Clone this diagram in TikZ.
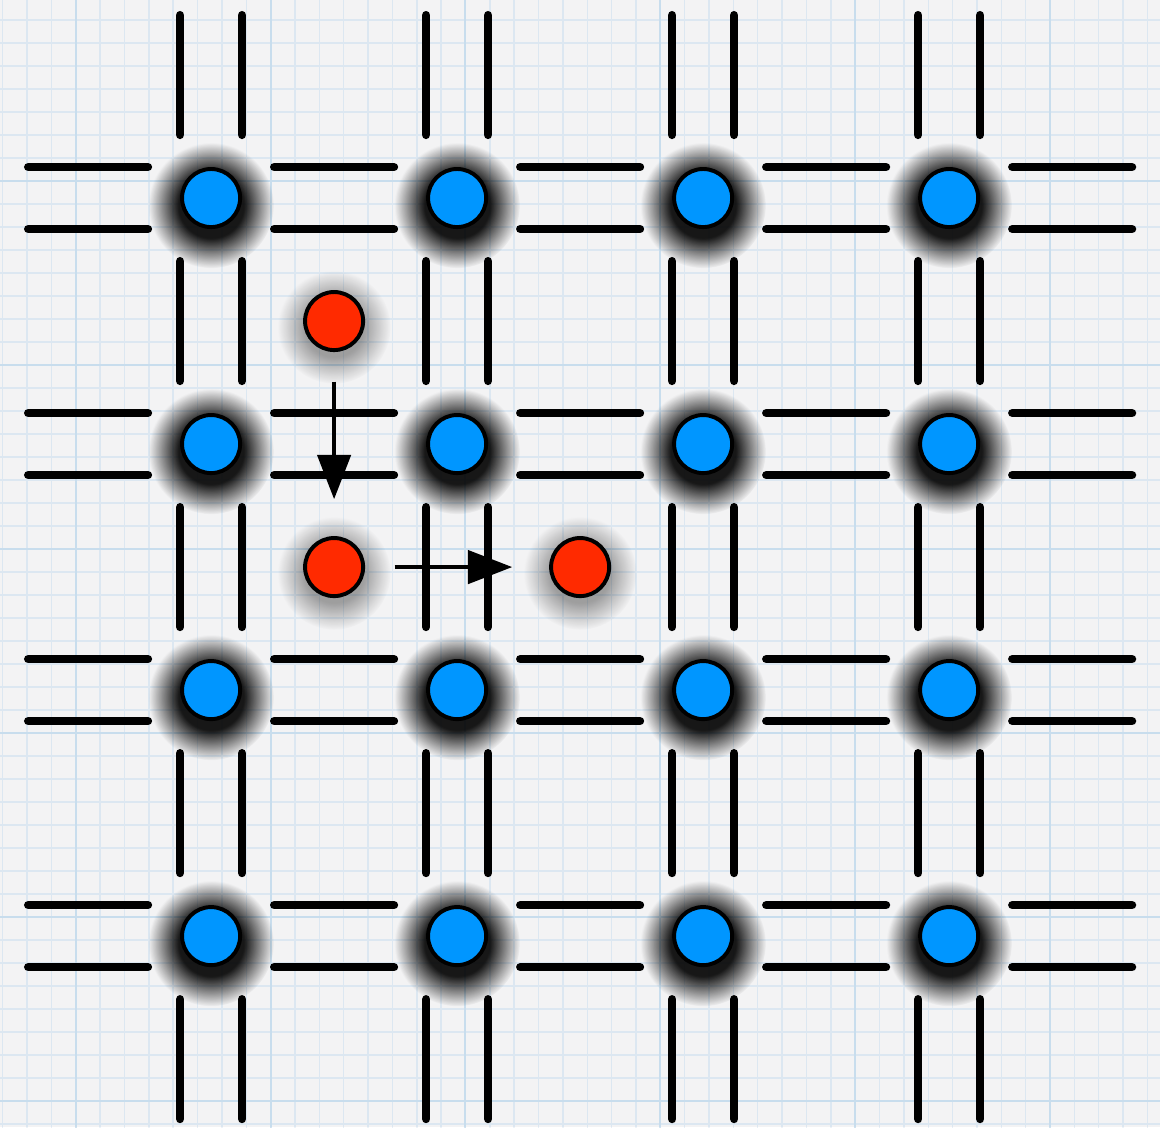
\documentclass[tikz,border=0pt]{standalone}
\usetikzlibrary{arrows.meta,fadings}
\definecolor{paper}{RGB}{243,243,244}
\definecolor{gridminor}{RGB}{220,231,241}
\definecolor{gridmajor}{RGB}{200,221,237}
\definecolor{siteblue}{RGB}{0,150,255}
\definecolor{hopred}{RGB}{255,42,0}
\pgfdeclareradialshading{haloshade}{\pgfpointorigin}{color(0bp)=(white); color(13bp)=(white); color(25bp)=(black); color(50bp)=(black)}
\pgfdeclarefading{halo}{\pgfuseshading{haloshade}}
\begin{document}
\begin{tikzpicture}[line join=round, line cap=round, >={Triangle[length=1.8cm, width=1.35cm]},
		bar/.style={line width=0.35cm},
		sitehalo/.style={black, fill opacity=0.9, path fading=halo},
		hophalo/.style={black, fill opacity=0.35, path fading=halo},
		site/.style={circle, draw=black, line width=0.16cm, fill=siteblue, minimum size=2.36cm, inner sep=0pt},
		hop/.style={circle, draw=black, line width=0.16cm, fill=hopred, minimum size=2.36cm, inner sep=0pt},
		move/.style={->, line width=0.16cm, line cap=butt, shorten <=1.2cm, shorten >=1.5cm}]
		\useasboundingbox (-8.58,-7.76) rectangle (38.57,38.05);
		\fill[paper] (-8.58,-7.76) rectangle (38.57,38.05);
		\begin{scope}
			\clip (-8.58,-7.76) rectangle (38.57,38.05);
			\foreach \k in {-3,...,44}
				\draw[gridminor, line width=0.06cm] (-5.5+0.99*\k,-7.76) -- (-5.5+0.99*\k,38.05);
			\foreach \k in {-33,...,16}
				\draw[gridminor, line width=0.06cm] (-8.58,23.21+0.935*\k) -- (38.57,23.21+0.935*\k);
			\foreach \k in {0,8,...,40}
				\draw[gridmajor, line width=0.08cm] (-5.5+0.99*\k,-7.76) -- (-5.5+0.99*\k,38.05);
			\foreach \k in {-32,-24,...,16}
				\draw[gridmajor, line width=0.08cm] (-8.58,23.21+0.935*\k) -- (38.57,23.21+0.935*\k);
		\end{scope}
		\foreach \c in {-5,5,15,25,35}
			\foreach \r in {0,10,20,30} {
				\draw[bar] (\c-2.43,\r-1.26) -- (\c+2.43,\r-1.26) (\c-2.43,\r+1.26) -- (\c+2.43,\r+1.26);
				\draw[bar] (\r-1.26,\c-2.43) -- (\r-1.26,\c+2.43) (\r+1.26,\c-2.43) -- (\r+1.26,\c+2.43);
			}
		\foreach \i in {0,...,3}
			\foreach \j in {0,...,3} {
				\fill[sitehalo] (10*\i,10*\j-0.3) circle (2.55);
				\node[site] (s\i\j) at (10*\i,10*\j) {};
			}
		\fill[hophalo] (5,24.75) circle (2.3);
		\fill[hophalo] (5,14.75) circle (2.3);
		\fill[hophalo] (15,14.75) circle (2.3);
		\node[hop] (a) at (5,25) {};
		\node[hop] (b) at (5,15) {};
		\node[hop] (c) at (15,15) {};
		\draw[move] (a) -- (b);
		\draw[move] (b) -- (c);
	\end{tikzpicture}
\end{document}
